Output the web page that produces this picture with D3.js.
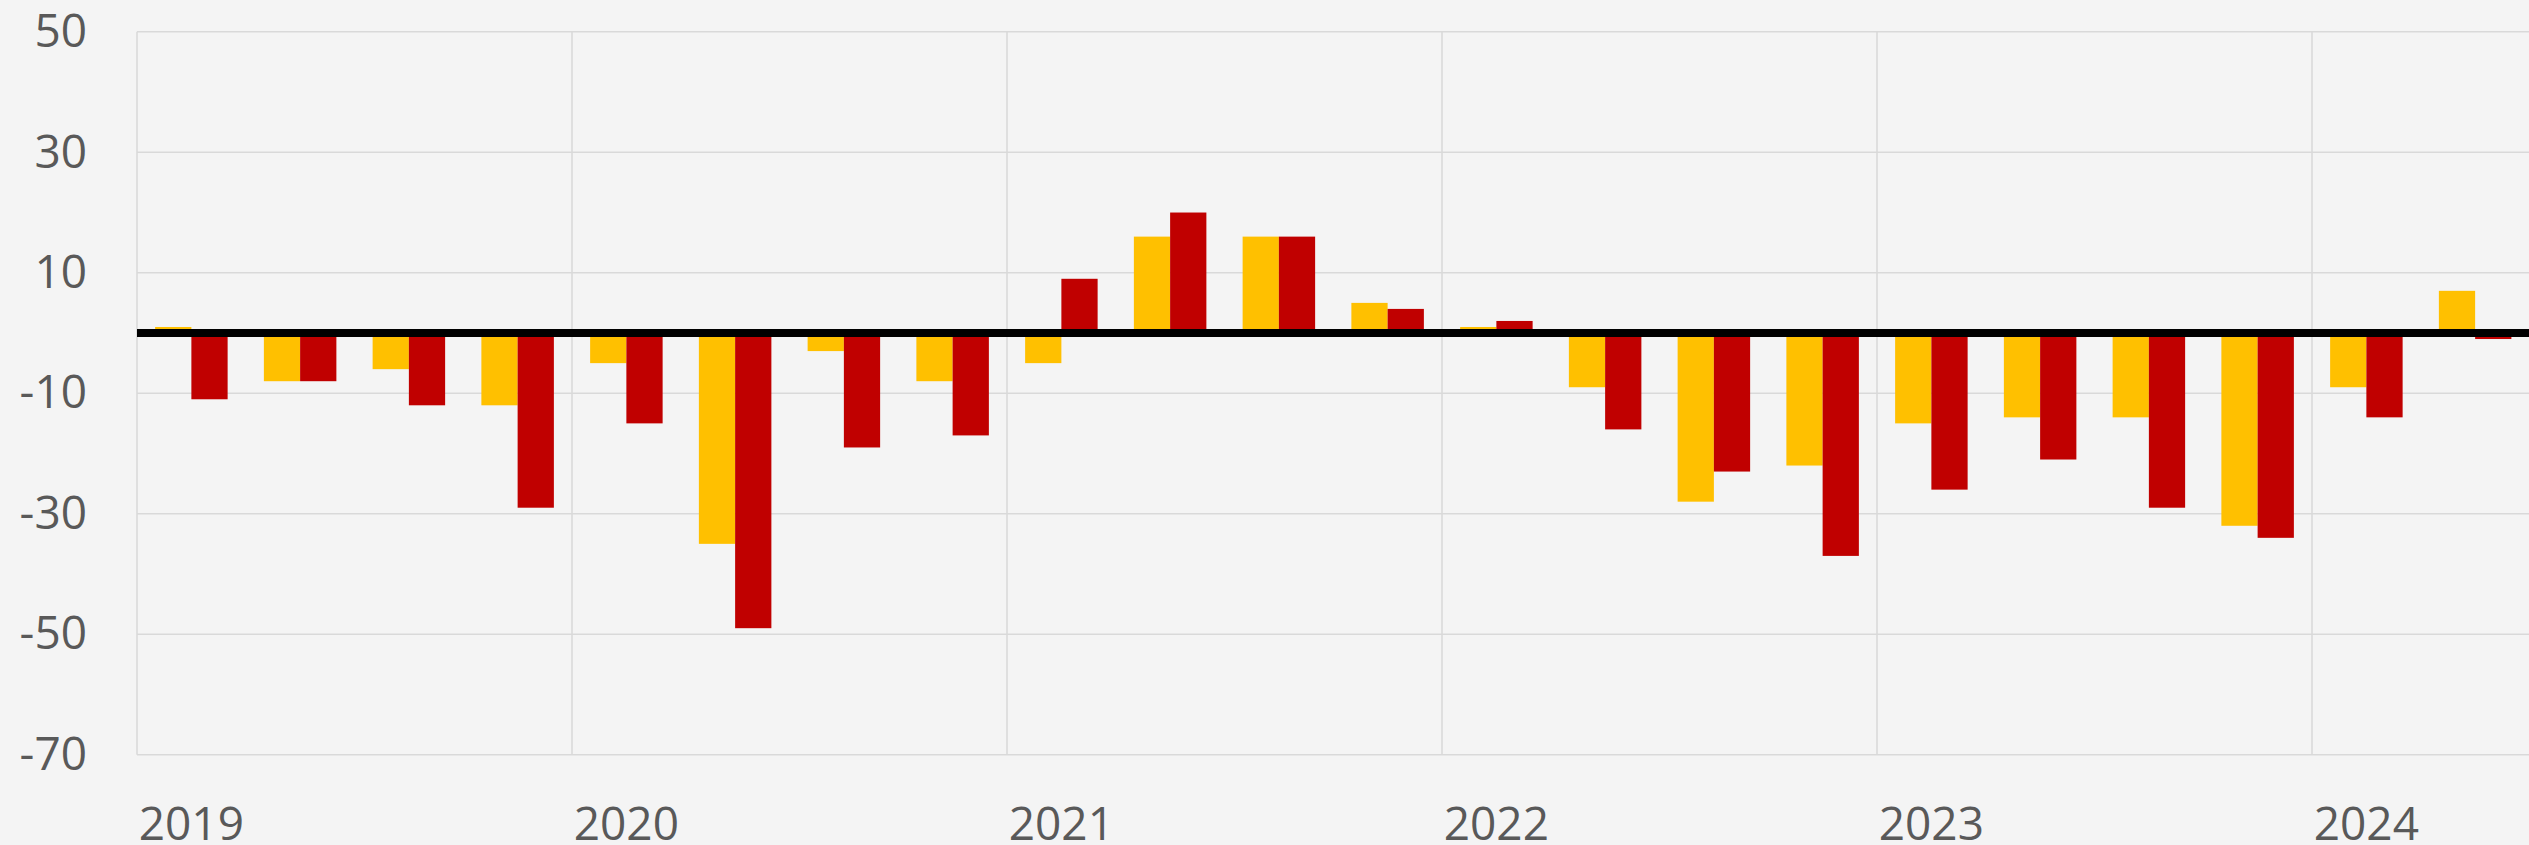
<!DOCTYPE html>
<html>
<head>
<meta charset="utf-8">
<script src="https://cdn.jsdelivr.net/npm/d3@7"></script>
<style>
  html, body { margin: 0; padding: 0; background: #f4f4f4; }
  svg { display: block; }
  text { font-family: "Open Sans", "Noto Sans", sans-serif; fill: #595959; }
</style>
</head>
<body>
<script>
// Quarters and values
var years = ["2019", "2020", "2021", "2022", "2023", "2024"];
var quarters = ["2019Q1", "2019Q2", "2019Q3", "2019Q4",
    "2020Q1", "2020Q2", "2020Q3", "2020Q4",
    "2021Q1", "2021Q2", "2021Q3", "2021Q4",
    "2022Q1", "2022Q2", "2022Q3", "2022Q4",
    "2023Q1", "2023Q2", "2023Q3", "2023Q4",
    "2024Q1", "2024Q2"];
var yellowValues = [1, -8, -6, -12, -5, -35, -3, -8, -5, 16, 16, 5, 1, -9, -28, -22, -15, -14, -14, -32, -9, 7];
var redValues = [-11, -8, -12, -29, -15, -49, -19, -17, 9, 20, 16, 4, 2, -16, -23, -37, -26, -21, -29, -34, -14, -1];
var yTicks = [50, 30, 10, -10, -30, -50, -70];

var seriesNames = ["yellow", "red"];
var colors = { yellow: "#FFC000", red: "#C00000" };

const chartWidth = 2529, chartHeight = 845;
const plotLeft = 137, plotTop = 31.8, plotBottom = 754.7;
const quarterWidth = 108.75;

var svg = d3.select("body")
    .append("svg")
    .attr("width", chartWidth)
    .attr("height", chartHeight);

svg.append("rect")
    .attr("width", chartWidth)
    .attr("height", chartHeight)
    .attr("fill", "#f4f4f4");

// scales
var x0 = d3.scaleBand()
    .domain(quarters)
    .range([plotLeft, plotLeft + quarters.length * quarterWidth])
    .padding(0);

// 50% gap width -> groups take 2/3 of each band
var x1 = d3.scaleBand()
    .domain(seriesNames)
    .range([x0.bandwidth() / 6, x0.bandwidth() * 5 / 6]);

var y = d3.scaleLinear()
    .domain([-70, 50])
    .range([plotBottom, plotTop]);

var rows = quarters.map((q, i) => ({ q: q, yellow: yellowValues[i], red: redValues[i] }));

// horizontal gridlines
svg.append("g")
    .selectAll("line")
    .data(yTicks)
    .enter()
    .append("line")
    .attr("x1", plotLeft)
    .attr("x2", chartWidth)
    .attr("y1", d => y(d))
    .attr("y2", d => y(d))
    .attr("stroke", "#d9d9d9")
    .attr("stroke-width", 1.5);

// vertical gridlines at year starts
svg.append("g")
    .selectAll("line")
    .data(years)
    .enter()
    .append("line")
    .attr("x1", d => x0(d + "Q1"))
    .attr("x2", d => x0(d + "Q1"))
    .attr("y1", plotTop)
    .attr("y2", plotBottom)
    .attr("stroke", "#d9d9d9")
    .attr("stroke-width", 1.5);

// bars
var groups = svg.append("g")
    .selectAll("g")
    .data(rows)
    .enter()
    .append("g")
    .attr("transform", d => `translate(${x0(d.q)},0)`);

groups.selectAll("rect")
    .data(d => seriesNames.map(s => ({ s: s, v: d[s] })))
    .enter()
    .append("rect")
    .attr("x", d => x1(d.s))
    .attr("width", x1.bandwidth())
    .attr("y", d => y(Math.max(0, d.v)))
    .attr("height", d => Math.abs(y(d.v) - y(0)))
    .attr("fill", d => colors[d.s]);

// zero line
svg.append("line")
    .attr("x1", plotLeft)
    .attr("x2", chartWidth)
    .attr("y1", y(0))
    .attr("y2", y(0))
    .attr("stroke", "#000")
    .attr("stroke-width", 8);

// y axis
var yAxis = svg.append("g")
    .attr("transform", `translate(${plotLeft},0)`)
    .call(d3.axisLeft(y).tickValues(yTicks).tickSize(0).tickPadding(50).tickFormat(d => String(d)));
yAxis.select(".domain").remove();
yAxis.selectAll("text")
    .style("font-size", "46px")
    .attr("fill", "#595959");

// x axis: year labels under the first quarter
var xAxis = svg.append("g")
    .attr("transform", `translate(0,${plotBottom})`)
    .call(d3.axisBottom(x0).tickValues(years.map(d => d + "Q1")).tickSize(0).tickFormat(d => d.slice(0, 4)));
xAxis.select(".domain").remove();
xAxis.selectAll("text")
    .attr("y", 0)
    .attr("dy", 0)
    .attr("transform", "translate(0,85)")
    .style("font-size", "46px")
    .attr("fill", "#595959");
</script>
</body>
</html>
